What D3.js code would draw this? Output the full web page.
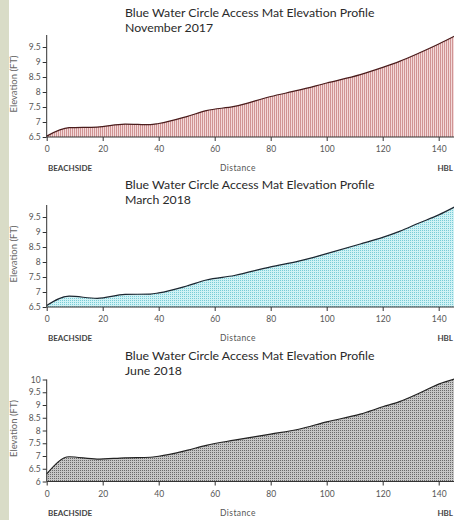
<!DOCTYPE html>
<html>
<head>
<meta charset="utf-8">
<script src="https://cdn.jsdelivr.net/npm/d3@7"></script>
<style>
  html, body { margin: 0; padding: 0; background: #ffffff; }
  svg { display: block; }
  text { font-family: Lato, "Open Sans", sans-serif; }
</style>
</head>
<body>
<svg id="chart" width="454" height="520"></svg>
<script>
// ---- data ----
const distances = [0, 8, 18, 28, 37, 40, 50, 57, 67, 80, 90, 100, 112, 120, 126, 133, 140, 146];
const nov2017 = [6.53, 6.81, 6.83, 6.93, 6.91, 6.95, 7.18, 7.38, 7.52, 7.85, 8.06, 8.30, 8.58, 8.82, 9.02, 9.30, 9.60, 9.88];
const mar2018 = [6.55, 6.86, 6.79, 6.92, 6.93, 6.97, 7.20, 7.40, 7.55, 7.84, 8.03, 8.28, 8.60, 8.82, 9.02, 9.30, 9.57, 9.85];
const jun2018 = [6.30, 6.97, 6.88, 6.93, 6.95, 6.99, 7.22, 7.42, 7.62, 7.86, 8.05, 8.34, 8.64, 8.93, 9.13, 9.46, 9.82, 10.03];
const xTicks = [0, 20, 40, 60, 80, 100, 120, 140];
const yTicksA = [6.5, 7, 7.5, 8, 8.5, 9, 9.5];
const yTicksB = [6, 6.5, 7, 7.5, 8, 8.5, 9, 9.5, 10];
const titleText = "Blue Water Circle Access Mat Elevation Profile";
const subtitles = ["November 2017", "March 2018", "June 2018"];
const leftLabel = "BEACHSIDE", rightLabel = "HBL", xTitle = "Distance", yTitle = "Elevation (FT)";

const svg = d3.select("#chart");
svg.append("rect").attr("x", 0).attr("y", 0).attr("width", 9).attr("height", 520).attr("fill", "#d9dcc7");

const defs = svg.append("defs");
// stripes (red)
const p1 = defs.append("pattern").attr("id", "pRed").attr("patternUnits", "userSpaceOnUse").attr("width", 2).attr("height", 2);
p1.append("rect").attr("width", 2).attr("height", 2).attr("fill", "#f3d9d9");
p1.append("rect").attr("width", 1).attr("height", 2).attr("fill", "#d09494");
// dots (cyan)
const p2 = defs.append("pattern").attr("id", "pCyan").attr("patternUnits", "userSpaceOnUse").attr("width", 2).attr("height", 2);
p2.append("rect").attr("width", 2).attr("height", 2).attr("fill", "#d0f2f5");
p2.append("rect").attr("width", 1).attr("height", 1).attr("fill", "#78ccd6");
// dots (gray)
const p3 = defs.append("pattern").attr("id", "pGray").attr("patternUnits", "userSpaceOnUse").attr("width", 2).attr("height", 2);
p3.append("rect").attr("width", 2).attr("height", 2).attr("fill", "#c6c6c6");
p3.append("rect").attr("width", 1).attr("height", 1).attr("fill", "#6a6a6a");

const panels = [
  { values: nov2017, sub: subtitles[0], titleY: 13, top: 35, bottom: 137, domain: [6.5, 9.9], ticks: yTicksA, fill: "url(#pRed)", line: "#4a1c1c" },
  { values: mar2018, sub: subtitles[1], titleY: 185, top: 205, bottom: 307, domain: [6.5, 9.9], ticks: yTicksA, fill: "url(#pCyan)", line: "#1c2630" },
  { values: jun2018, sub: subtitles[2], titleY: 356, top: 379.5, bottom: 481.5, domain: [6, 10], ticks: yTicksB, fill: "url(#pGray)", line: "#222222" }
];

const x = d3.scaleLinear().domain([0, 146]).range([46.7, 46.7 + 2.8 * 146]);

panels.forEach(p => {
  const g = svg.append("g");
  const y = d3.scaleLinear().domain(p.domain).range([p.bottom, p.top]);
  const data = distances.map((d, i) => ({ d, v: p.values[i] }));

  g.append("path").datum(data)
    .attr("fill", p.fill)
    .attr("d", d3.area().x(e => x(e.d)).y0(p.bottom).y1(e => y(e.v)).curve(d3.curveMonotoneX));
  g.append("path").datum(data)
    .attr("fill", "none").attr("stroke", p.line).attr("stroke-width", 1.2)
    .attr("d", d3.line().x(e => x(e.d)).y(e => y(e.v)).curve(d3.curveMonotoneX));

  const ya = g.append("g").attr("transform", `translate(${x(0)},0)`)
    .call(d3.axisLeft(y).tickValues(p.ticks).tickSize(4).tickPadding(2).tickFormat(d3.format("~g")));
  ya.select(".domain").attr("d", `M0,${p.top}V${p.bottom}`).attr("stroke", "#333");
  ya.selectAll(".tick line").attr("stroke", "#333");
  ya.selectAll(".tick text").attr("fill", "#555").style("font-size", "8.5px").style("font-family", "Lato, sans-serif");

  const xa = g.append("g").attr("transform", `translate(0,${p.bottom})`)
    .call(d3.axisBottom(x).tickValues(xTicks).tickSize(4).tickPadding(5));
  xa.select(".domain").attr("d", `M${x(0)},0H454`).attr("stroke", "#333");
  xa.selectAll(".tick line").attr("stroke", "#333");
  xa.selectAll(".tick text").attr("fill", "#555").style("font-size", "8.5px").style("font-family", "Lato, sans-serif");

  g.append("text").attr("x", 125).attr("y", p.titleY + 4).attr("fill", "#2a2a2a")
    .style("font-size", "12.3px").text(titleText);
  g.append("text").attr("x", 125).attr("y", p.titleY + 19).attr("fill", "#2a2a2a")
    .style("font-size", "12.3px").text(p.sub);

  const ly = p.bottom + 31;
  g.append("text").attr("x", 48).attr("y", ly + 3).attr("fill", "#444")
    .style("font-size", "8px").style("font-weight", "bold").text(leftLabel);
  g.append("text").attr("x", 238).attr("y", ly + 3).attr("text-anchor", "middle").attr("fill", "#555")
    .style("font-size", "8.5px").style("letter-spacing", "0.4px").text(xTitle);
  g.append("text").attr("x", 453).attr("y", ly + 3).attr("text-anchor", "end").attr("fill", "#444")
    .style("font-size", "8px").style("font-weight", "bold").text(rightLabel);

  g.append("text").attr("transform", `translate(17,${(p.top + p.bottom) / 2 - 2}) rotate(-90)`)
    .attr("text-anchor", "middle").attr("fill", "#666").style("font-size", "9.5px").text(yTitle);
});
</script>
</body>
</html>
